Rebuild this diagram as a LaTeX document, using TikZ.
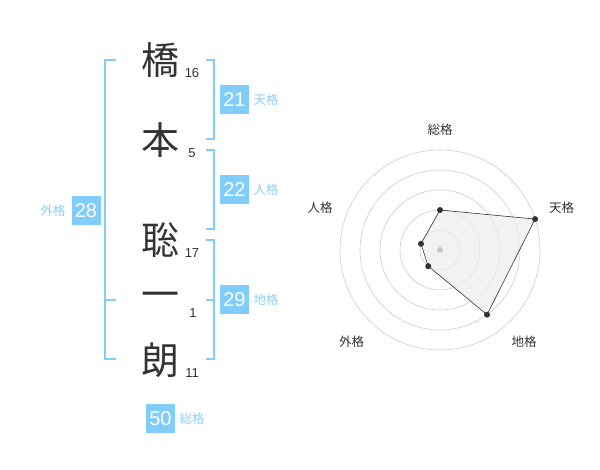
\documentclass[tikz,border=0pt]{standalone}
\usepackage{fontspec}
\setmainfont{Liberation Sans}
\newfontfamily\jpfont{Noto Sans CJK JP}
\definecolor{kakuBlue}{HTML}{80CCFA}
\definecolor{kakuText}{HTML}{8ED0F5}
\definecolor{inkGray}{HTML}{333333}
\begin{document}
\begin{tikzpicture}[x=1pt, y=1pt,
    kanji/.style={font=\jpfont\fontsize{38}{38}\selectfont, text=inkGray, inner sep=0pt},
    strokes/.style={font=\fontsize{13}{13}\selectfont, text=inkGray, inner sep=0pt},
    kakuBox/.style={fill=kakuBlue, text=white, minimum size=29pt, inner sep=0pt, font=\fontsize{20}{20}\selectfont},
    kakuLabel/.style={text=kakuText, font=\jpfont\fontsize{12.5}{12.5}\selectfont, inner sep=0pt},
    bracket/.style={draw=kakuBlue, line width=1.6pt},
    ring/.style={draw=black!20, line width=0.6pt},
    axisLabel/.style={text=inkGray, font=\jpfont\fontsize{12.5}{12.5}\selectfont, inner sep=0pt},
    dataDot/.style={circle, fill=inkGray, inner sep=0pt, minimum size=6pt}]
    \useasboundingbox (0,0) rectangle (600,470);
    \node[kanji] at (160,410) (hashi) {橋};
    \node[kanji] at (160,330) (moto) {本};
    \node[kanji] at (160,230) (sou) {聡};
    \node[kanji] at (160,170) (ichi) {一};
    \node[kanji] at (160,110) (rou) {朗};
    \node[strokes] at (192,397.3) (hashiCount) {16};
    \node[strokes] at (192,317.3) (motoCount) {5};
    \node[strokes] at (192,217.3) (souCount) {17};
    \node[strokes] at (193,157.3) (ichiCount) {1};
    \node[strokes] at (192,97.3) (rouCount) {11};
    \draw[bracket] (206,410) -- (214,410) -- (214,331) -- (206,331);
    \draw[bracket] (206,320) -- (214,320) -- (214,241) -- (206,241);
    \draw[bracket] (206,230) -- (214,230) -- (214,111) -- (206,111);
    \draw[bracket] (206,170) -- (214,170);
    \draw[bracket] (116,410) -- (105,410) -- (105,111) -- (116,111);
    \draw[bracket] (105,170) -- (116,170);
    \node[kakuBox] at (234.5,370) (tenBox) {21};
    \node[kakuLabel] at (266,370) (tenLabel) {天格};
    \node[kakuBox] at (234.5,280) (jinBox) {22};
    \node[kakuLabel] at (266,280) (jinLabel) {人格};
    \node[kakuBox] at (234.5,170) (chiBox) {29};
    \node[kakuLabel] at (266,170) (chiLabel) {地格};
    \node[kakuBox] at (86,259.5) (gaiBox) {28};
    \node[kakuLabel] at (53,259.5) (gaiLabel) {外格};
    \node[kakuBox] at (160.5,51.5) (souBox) {50};
    \node[kakuLabel] at (192,51.5) (souLabel) {総格};
    \coordinate (hub) at (440,220);
    \foreach \r in {20,40,60,80,100}
        \draw[ring] (hub) circle (\r);
    \coordinate (souPt) at ([shift={(90:40)}]hub);
    \coordinate (tenPt) at ([shift={(18:100)}]hub);
    \coordinate (chiPt) at ([shift={(-54:80)}]hub);
    \coordinate (gaiPt) at ([shift={(-126:20)}]hub);
    \coordinate (jinPt) at ([shift={(162:20)}]hub);
    \draw[fill=black!7, fill opacity=0.7, draw=inkGray, line width=0.6pt] (souPt) -- (tenPt) -- (chiPt) -- (gaiPt) -- (jinPt) -- cycle;
    \fill[black!22] (hub) circle (3);
    \foreach \p in {souPt,tenPt,chiPt,gaiPt,jinPt}
        \node[dataDot] at (\p) {};
    \node[axisLabel] at (440,340) (souAxis) {総格};
    \node[axisLabel] at (561.7,262) (tenAxis) {天格};
    \node[axisLabel] at (524,128.3) (chiAxis) {地格};
    \node[axisLabel] at (351.7,128.3) (gaiAxis) {外格};
    \node[axisLabel] at (320,262) (jinAxis) {人格};
\end{tikzpicture}
\end{document}
